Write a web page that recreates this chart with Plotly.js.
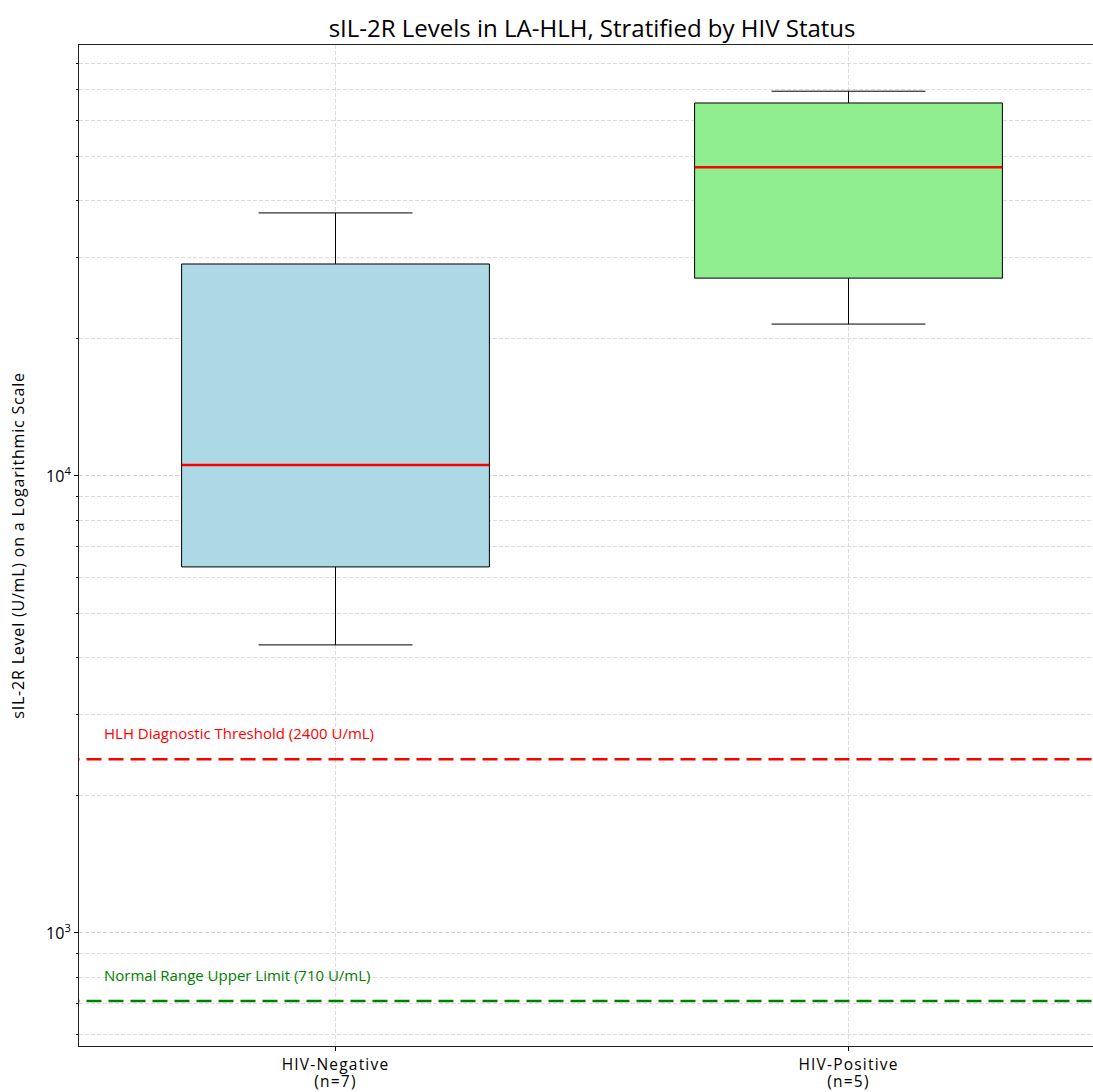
<!DOCTYPE html>
<html>
<head>
<meta charset="utf-8">
<script src="https://cdn.plot.ly/plotly-3.0.1.min.js"></script>
<style>
html,body{margin:0;padding:0;background:#fff;overflow:hidden}
#chart .xtick text{letter-spacing:1.2px}
#chart .g-ytitle text{letter-spacing:0.8px}
</style>
</head>
<body>
<div id="chart" style="width:1093px;height:1092px"></div>
<script>
// Data (U/mL)
const categories = ["HIV-Negative<br>(n=7)", "HIV-Positive<br>(n=5)"];
const boxColors = ["#add8e6", "#90ee90"];
const lowerWhisker = [4270, 21500];
const q1Values = [6325, 27100];
const medianValues = [10570, 47400];
const q3Values = [29100, 65500];
const upperWhisker = [37640, 69500];
const thresholdValues = [2400, 710];
const thresholdLabels = ["HLH Diagnostic Threshold (2400 U/mL)", "Normal Range Upper Limit (710 U/mL)"];
const thresholdColors = ["red", "green"];
const yTickVals = [1000, 10000];
const yTickText = ["10<sup>3</sup>", "10<sup>4</sup>"];

const BOXW = 0.6;
const FONT = "'Open Sans', 'DejaVu Sans', sans-serif";
const traces = [];

categories.forEach((c, i) => {
  traces.push({
    type: "box",
    x: [i],
    q1: [q1Values[i]],
    median: [medianValues[i]],
    q3: [q3Values[i]],
    lowerfence: [lowerWhisker[i]],
    upperfence: [upperWhisker[i]],
    width: BOXW,
    whiskerwidth: 0.5,
    fillcolor: boxColors[i],
    line: {color: "#000", width: 1},
    boxpoints: false,
    hoverinfo: "skip",
    showlegend: false
  });
});
// red median lines
categories.forEach((c, i) => {
  traces.push({
    type: "scatter", mode: "lines",
    x: [i - BOXW / 2, i + BOXW / 2],
    y: [medianValues[i], medianValues[i]],
    line: {color: "red", width: 2.5},
    hoverinfo: "skip", showlegend: false
  });
});
// threshold lines
thresholdValues.forEach((v, k) => {
  traces.push({
    type: "scatter", mode: "lines",
    x: [-1, 2],
    y: [v, v],
    line: {color: thresholdColors[k], width: 2.5, dash: "15px,7px"},
    hoverinfo: "skip", showlegend: false
  });
});

const annotations = thresholdValues.map((v, k) => ({
  xref: "x", yref: "y",
  x: -0.45, y: Math.log10(v),
  xanchor: "left", yanchor: "middle",
  yshift: 26, xshift: -3,
  text: thresholdLabels[k],
  showarrow: false,
  font: {family: FONT, size: 15, color: thresholdColors[k]}
}));

const gridStyle = {gridcolor: "#cccccc", gridwidth: 0.7, griddash: "4px,2px"};

const layout = {
  width: 1093, height: 1092,
  margin: {l: 79, r: 0, t: 45, b: 46},
  paper_bgcolor: "#fff", plot_bgcolor: "#fff",
  font: {family: FONT, color: "#000"},
  title: {
    text: "sIL-2R Levels in LA-HLH, Stratified by HIV Status",
    font: {family: FONT, size: 24, color: "#000"},
    xref: "paper", x: 0.506, xanchor: "center",
    yref: "container", y: 1 - 29 / 1092, yanchor: "middle"
  },
  xaxis: {
    type: "linear",
    range: [-0.5, 1.4766],
    tickvals: [0, 1],
    ticktext: categories,
    ticks: "outside", ticklen: 4, tickcolor: "#000",
    tickfont: {family: FONT, size: 15.5},
    showgrid: true, ...gridStyle,
    zeroline: false,
    showline: true, linecolor: "#222", linewidth: 1, mirror: true
  },
  yaxis: {
    type: "log",
    range: [2.7527, 4.9431],
    tickmode: "array",
    tickvals: yTickVals,
    ticktext: yTickText,
    ticks: "outside", ticklen: 4, tickcolor: "#000",
    tickfont: {family: FONT, size: 16},
    showgrid: true, ...gridStyle,
    minor: {dtick: "D1", showgrid: true, ...gridStyle, ticks: "outside", ticklen: 2, tickcolor: "#000"},
    zeroline: false,
    showline: true, linecolor: "#222", linewidth: 1, mirror: false,
    title: {text: "sIL-2R Level (U/mL) on a Logarithmic Scale", font: {family: FONT, size: 16}, standoff: 17}
  },
  annotations: annotations,
  showlegend: false
};

Plotly.newPlot("chart", traces, layout, {displayModeBar: false, staticPlot: true}).then(() => {
  // tighten the two-line x tick labels so both lines fit like the reference
  document.querySelectorAll(".xtick text tspan.line").forEach((t) => {
    if (t.getAttribute("dy") && parseFloat(t.getAttribute("dy")) > 0) t.setAttribute("dy", "1.12em");
  });
});
</script>
</body>
</html>
